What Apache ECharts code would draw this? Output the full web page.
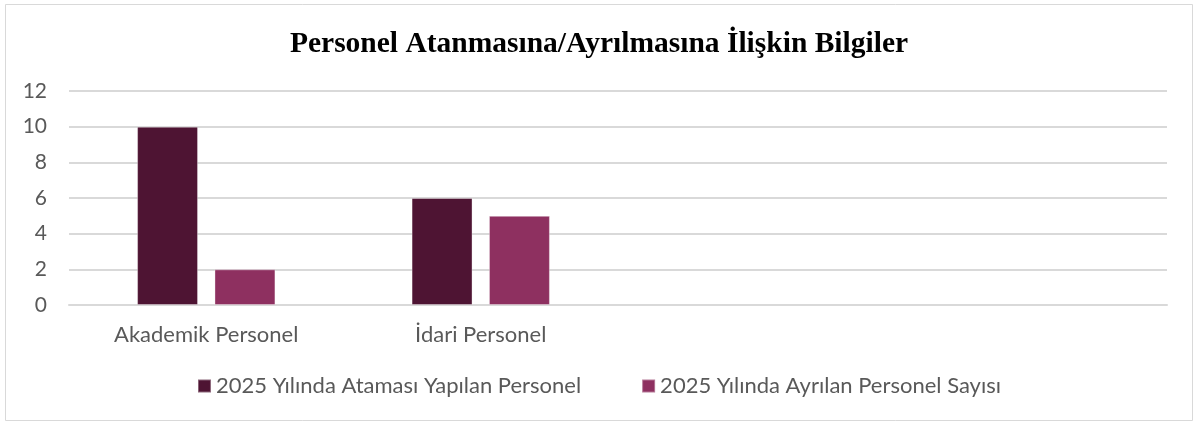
<!DOCTYPE html>
<html>
<head>
<meta charset="utf-8">
<script src="https://cdn.jsdelivr.net/npm/echarts@6/dist/echarts.min.js"></script>
<style>
  html, body { margin: 0; padding: 0; background: #fff; }
  #chart { width: 1198px; height: 425px; }
</style>
</head>
<body>
<div id="chart"></div>
<script>
// kategoriler (son ikisi boş)
var categories = ['Akademik Personel', 'İdari Personel', '', ''];
var seriesNames = ['2025 Yılında Ataması Yapılan Personel', '2025 Yılında Ayrılan Personel Sayısı'];
var atananlar = [10, 6, null, null];
var ayrilanlar = [2, 5, null, null];

var labelFont = 'Lato, "Open Sans", sans-serif';

var myChart = echarts.init(document.getElementById('chart'));
var option = {
    backgroundColor: '#fff',
    animation: false,
    color: ['#4E1433', '#8E3060'],
    graphic: [{
        type: 'rect',
        shape: { x: 5.5, y: 4.5, width: 1187, height: 416 },
        style: { fill: 'none', stroke: '#d9d9d9', lineWidth: 1 },
        z: -1
    }],
    title: {
        text: 'Personel Atanmasına/Ayrılmasına İlişkin Bilgiler',
        left: 'center',
        top: 24,
        textStyle: {
            fontFamily: '"Liberation Serif", "Times New Roman", serif',
            fontWeight: 'bold',
            fontSize: 29.5,
            color: '#000'
        }
    },
    legend: {
        bottom: 23,
        left: 'center',
        itemWidth: 13,
        itemHeight: 13,
        itemGap: 60,
        icon: 'rect',
        data: seriesNames,
        textStyle: { fontFamily: labelFont, fontSize: 22, color: '#595959' }
    },
    grid: { left: 69, right: 31, top: 91, bottom: 120, containLabel: false },
    xAxis: {
        type: 'category',
        data: categories,
        axisLine: { show: true, lineStyle: { color: '#d9d9d9', width: 2 } },
        axisTick: { show: false },
        axisLabel: { fontFamily: labelFont, fontSize: 22, color: '#595959', margin: 19 }
    },
    yAxis: {
        type: 'value',
        min: 0,
        max: 12,
        interval: 2,
        axisLine: { show: false },
        axisTick: { show: false },
        splitLine: { lineStyle: { color: '#d9d9d9', width: 2 } },
        axisLabel: { fontFamily: labelFont, fontSize: 21, color: '#595959', margin: 22 }
    },
    series: [{
        name: seriesNames[0],
        type: 'bar',
        data: atananlar,
        barWidth: '22.2%',
        barGap: '27%',
        itemStyle: { borderColor: 'rgba(255,255,255,0.35)', borderWidth: 1 }
    }, {
        name: seriesNames[1],
        type: 'bar',
        data: ayrilanlar,
        barWidth: '22.2%',
        itemStyle: { borderColor: 'rgba(255,255,255,0.35)', borderWidth: 1 }
    }]
};
myChart.setOption(option);
</script>
</body>
</html>
